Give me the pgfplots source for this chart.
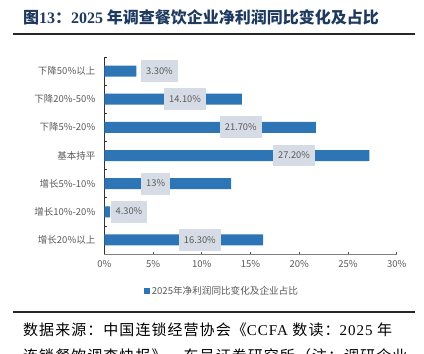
\documentclass[border=0pt]{standalone}
\usepackage{fontspec}
\usepackage{pgfplots}
\pgfplotsset{compat=1.18}
\newfontfamily\cjk{Noto Sans CJK SC}
\newfontfamily\cjksp[LetterSpace=7]{Noto Sans CJK SC}
\newfontfamily\serif{Liberation Serif}
\newfontfamily\serifsp[LetterSpace=7]{Liberation Serif}
\definecolor{barblue}{HTML}{2E75B6}
\definecolor{lblbg}{HTML}{D6DCE5}
\definecolor{txtgray}{HTML}{595959}
\definecolor{titlecol}{HTML}{1F3A5F}
\begin{document}
\begin{tikzpicture}
\useasboundingbox (0,0) rectangle (424pt,354pt);
\begin{axis}[
  at={(104.3pt,100pt)}, anchor=south west,
  scale only axis, width=292.5pt, height=197pt,
  xmin=0, xmax=30, ymin=-0.5, ymax=6.5, y dir=reverse,
  axis x line*=bottom, axis y line*=left,
  x axis line style={draw=black!50, line width=0.7pt},
  y axis line style={draw=black!80, line width=0.8pt},
  xtick={0,5,10,15,20,25,30},
  xticklabels={0\%,5\%,10\%,15\%,20\%,25\%,30\%},
  ytick={0,1,2,3,4,5,6},
  yticklabels={下降50\%以上,下降20\%-50\%,下降5\%-20\%,基本持平,增长5\%-10\%,增长10\%-20\%,增长20\%以上},
  minor ytick={-0.5,0.5,1.5,2.5,3.5,4.5,5.5,6.5},
  tick align=inside,
  major tick length=2.5pt, minor tick length=3pt,
  major x tick style={draw=black!70, line width=0.6pt},
  major y tick style={draw=none},
  minor y tick style={draw=black!80, line width=0.7pt},
  ticklabel style={font=\cjk\fontsize{9.5}{10}\selectfont, text=txtgray},
  xticklabel style={yshift=-3pt},
  yticklabel style={xshift=-5.5pt},
  legend style={at={(0.402,-0.188)}, anchor=center, draw=none, fill=none,
    font=\cjk\fontsize{9.6}{10}\selectfont, text=txtgray, inner sep=0pt},
  legend image code/.code={\fill[barblue] (0pt,-3pt) rectangle (6pt,3pt);},
]
\addplot[xbar, bar width=11pt, fill=barblue, draw=none]
  coordinates {(3.3,0) (14.1,1) (21.7,2) (27.2,3) (13,4) (0.6,5) (16.3,6)};
\addlegendentry{2025年净利润同比变化及企业占比}
\addplot[draw=none, mark=none, forget plot, nodes near coords,
  point meta=explicit symbolic,
  nodes near coords style={fill=lblbg, text=txtgray, anchor=center,
    font=\cjk\fontsize{9.3}{10}\selectfont, inner xsep=5pt, inner ysep=7.3pt,
    text height=6.8pt, text depth=0.5pt}]
  coordinates {(5.66,0)[3.30\%] (8.28,1)[14.10\%] (14.0,2)[21.70\%] (19.46,3)[27.20\%]
               (5.27,4)[13\%] (2.53,5)[4.30\%] (9.8,6)[16.30\%]};
\end{axis}
\node[anchor=west, inner sep=0pt, text=titlecol] at (23pt,337pt)
  {\cjk\bfseries\fontsize{16}{18}\selectfont 图{\serif\bfseries 13}：{\serif\bfseries 2025} 年调查餐饮企业净利润同比变化及占比};
\draw[line width=1.8pt, black!85] (13pt,320pt) -- (415pt,320pt);
\draw[line width=1.2pt, black!85] (13pt,42pt) -- (415pt,42pt);
\node[anchor=west, inner sep=0pt] at (23pt,24.5pt)
  {\cjksp\fontsize{15}{17}\selectfont 数据来源：中国连锁经营协会《{\serifsp CCFA} 数读：{\serifsp 2025} 年};
\node[anchor=west, inner sep=0pt] at (23pt,-1.5pt)
  {\cjksp\fontsize{15}{17}\selectfont 连锁餐饮调查快报》，东吴证券研究所（注：调研企业};
\end{tikzpicture}
\end{document}
